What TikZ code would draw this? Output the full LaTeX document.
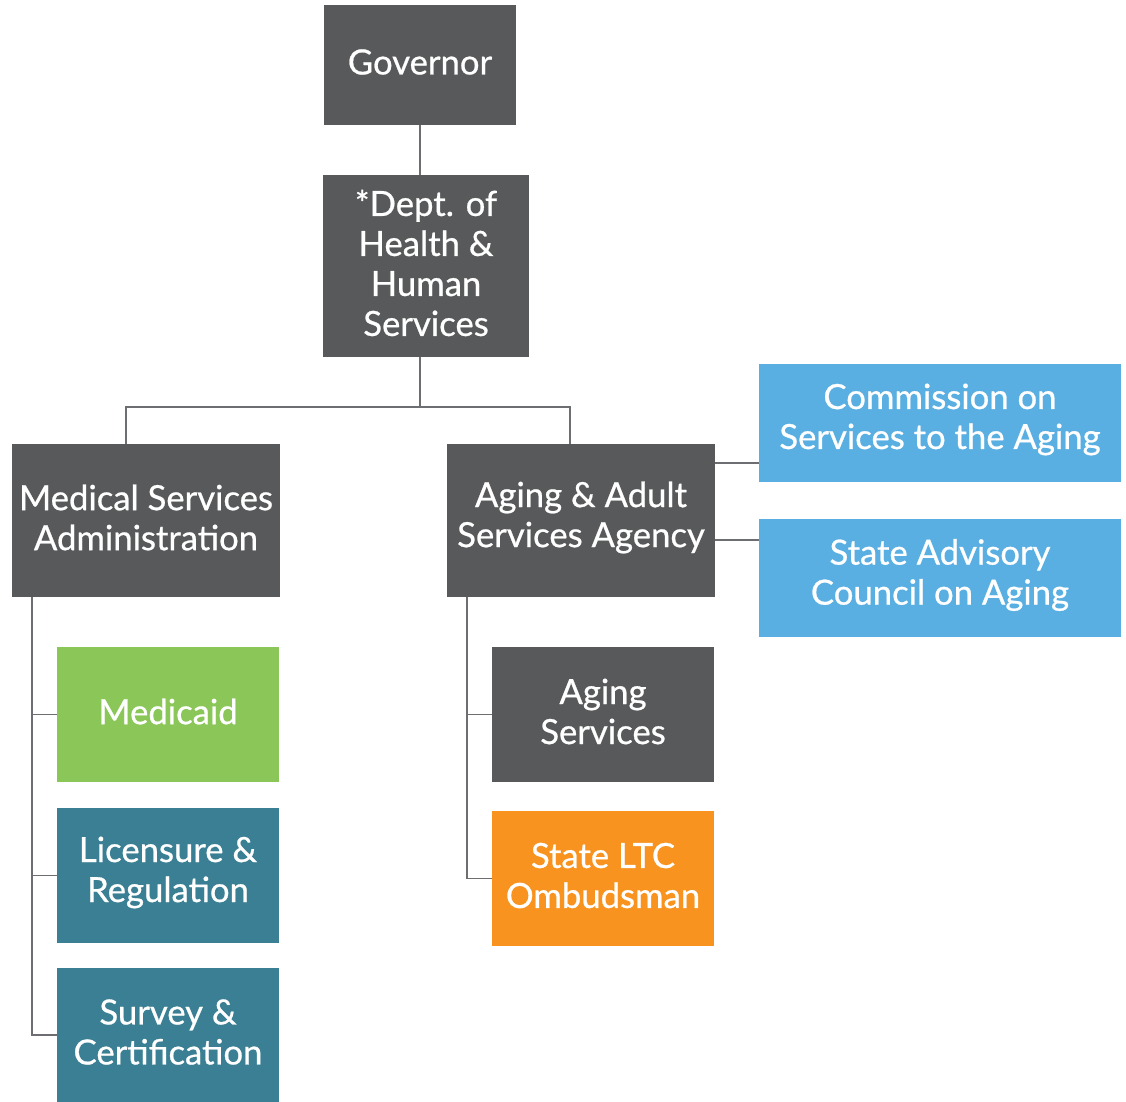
\documentclass[tikz,border=0pt]{standalone}
\usepackage{fontspec}
\setmainfont{Lato}[UprightFeatures={FakeBold=0.7}]
\definecolor{unitgray}{HTML}{58595B}
\definecolor{councilblue}{HTML}{5AAFE2}
\definecolor{medgreen}{HTML}{8BC658}
\definecolor{regteal}{HTML}{3A7F93}
\definecolor{ombudorange}{HTML}{F7931E}
\definecolor{linkgray}{HTML}{6D6E71}
\begin{document}
\begin{tikzpicture}[x=0.75pt, y=-0.75pt]
    \tikzstyle{every node}=[align=center, text=white, inner sep=0pt, font=\fontsize{26}{30}\selectfont]
    \tikzstyle{office}=[fill=unitgray]
    \tikzstyle{agency}=[office, minimum width=201pt, minimum height=114.75pt]
    \tikzstyle{section}=[minimum width=166.5pt, minimum height=101.25pt]
    \tikzstyle{council}=[fill=councilblue, minimum width=271.5pt, minimum height=88.5pt]
    \tikzstyle{title}=[label={[yshift=2.25pt]center:{#1}}]
    \tikzstyle{link}=[draw=linkgray, line width=1.1pt]
    \useasboundingbox (0,0) rectangle (1126,1101);
    % top of the chart
    \node[office, minimum width=144pt, minimum height=90pt, title=Governor] (gov) at (420,65) {};
    \node[office, minimum width=154.5pt, minimum height=136.5pt,
        title={*Dept. of\\Health \&\\Human\\Services}] (dhhs) at (426,266) {};
    \node[agency, title={Medical Services\\Administration}] (msa) at (146,520.5) {};
    \node[agency, title={Aging \& Adult\\Services Agency}] (aasa) at (581,520.5) {};
    % boards beside the agency
    \node[council, title={Commission on\\Services to the Aging}] (csa) at (940,422.5) {};
    \node[council, title={State Advisory\\Council on Aging}] (sac) at (940,578) {};
    % sections
    \node[section, fill=medgreen, title=Medicaid] (medicaid) at (168,714.5) {};
    \node[section, fill=regteal, title={Licensure \&\\Regulation}] (licensure) at (168,875.5) {};
    \node[section, fill=regteal, title={Survey \&\\Certification}] (survey) at (168,1035) {};
    \node[section, office, title={Aging\\Services}] (aging) at (603,714.5) {};
    \node[section, fill=ombudorange, title={State LTC\\Ombudsman}] (ltc) at (603,878.5) {};
    % connectors
    \coordinate (msaup) at (126,407);
    \coordinate (aasaup) at (570,407);
    \coordinate (msaspine) at (32,0);
    \coordinate (aasaspine) at (467,0);
    \coordinate (csajoin) at (715,463);
    \coordinate (sacjoin) at (715,540);
    \draw[link] (gov.south) -- (gov.south |- dhhs.north);
    \draw[link] (gov.south |- dhhs.south) -- (gov.south |- msaup);
    \draw[link] (msaup |- msa.north) -- (msaup) -- (aasaup) -- (aasaup |- aasa.north);
    \draw[link] (csajoin) -- (csajoin -| csa.west);
    \draw[link] (sacjoin) -- (sacjoin -| sac.west);
    \draw[link] (msaspine |- msa.south) |- (survey.west);
    \draw[link] (msaspine |- medicaid.west) -- (medicaid.west);
    \draw[link] (msaspine |- licensure.west) -- (licensure.west);
    \draw[link] (aasaspine |- aasa.south) |- (ltc.west);
    \draw[link] (aasaspine |- aging.west) -- (aging.west);
\end{tikzpicture}
\end{document}
